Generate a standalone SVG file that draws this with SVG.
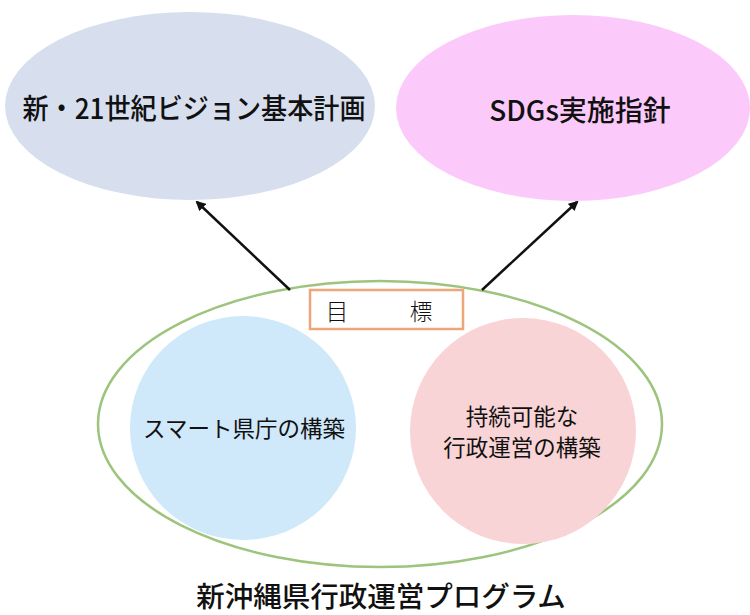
<svg xmlns="http://www.w3.org/2000/svg" width="750" height="615" viewBox="0 0 750 615">
<defs>
<style>
text{font-family:"Noto Sans CJK JP","Noto Sans",sans-serif;fill:#111;text-anchor:middle}
.big{font-size:28px;font-weight:500}
.mid{font-size:22.5px}
.conn{stroke:#111;stroke-width:2.5;fill:none;marker-end:url(#ah)}
</style>
<marker id="ah" viewBox="0 0 10 10" refX="8" refY="5" markerWidth="4" markerHeight="4" orient="auto">
<path d="M0,0 L10,5 L0,10 z" fill="#111"/>
</marker>
</defs>
<rect width="750" height="615" fill="#fff"/>
<g id="vision">
<ellipse cx="190" cy="106" rx="185" ry="94" fill="#D7DFEF"/>
<text class="big" x="194" y="119" textLength="343" lengthAdjust="spacingAndGlyphs">新・21世紀ビジョン基本計画</text>
</g>
<g id="sdgs">
<ellipse cx="573" cy="108" rx="177" ry="93" fill="#FCC9FB"/>
<text class="big" x="580" y="121">SDGs実施指針</text>
</g>
<g id="program">
<ellipse cx="380" cy="424" rx="282" ry="143" fill="#fff" stroke="#9DC47C" stroke-width="2.5"/>
<text class="big" x="381" y="607" style="font-size:28.5px">新沖縄県行政運営プログラム</text>
</g>
<g id="goal">
<rect x="310" y="290" width="153" height="39" fill="#fff" stroke="#EFA57A" stroke-width="2.5"/>
<text class="mid" x="337" y="320" style="font-weight:300">目</text>
<text class="mid" x="421" y="320" style="font-weight:300">標</text>
</g>
<g id="smart">
<ellipse cx="243" cy="428" rx="113" ry="112" fill="#CFE8FA"/>
<text class="mid" x="244" y="437">スマート県庁の構築</text>
</g>
<g id="sustain">
<ellipse cx="523" cy="431" rx="113" ry="113" fill="#F9D4D6"/>
<text class="mid" x="522" y="425">持続可能な</text>
<text class="mid" x="522" y="456">行政運営の構築</text>
</g>
<g id="connectors">
<line class="conn" x1="290" y1="290" x2="197" y2="202"/>
<line class="conn" x1="482" y1="290" x2="577" y2="202"/>
</g>
</svg>
